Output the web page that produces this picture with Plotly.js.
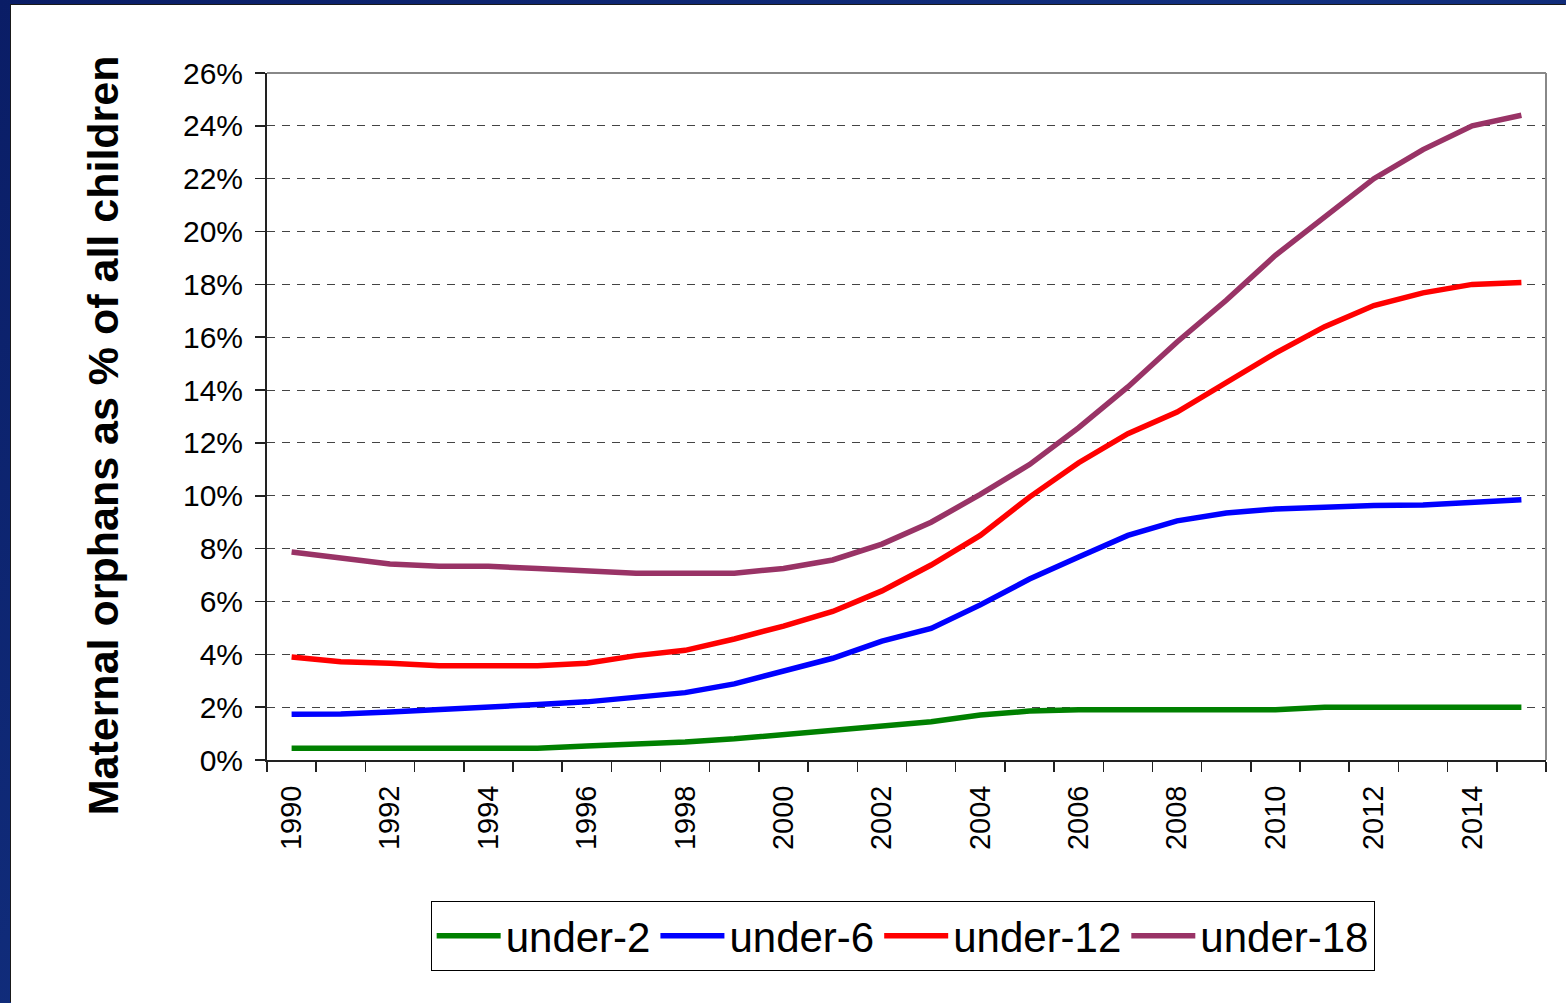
<!DOCTYPE html>
<html>
<head>
<meta charset="utf-8">
<script src="https://cdn.plot.ly/plotly-3.0.1.min.js"></script>
<style>
  html, body { margin: 0; padding: 0; width: 1566px; height: 1003px; overflow: hidden;
    background: linear-gradient(135deg, #0a1d66 0%, #123080 50%, #0a1d66 100%); }
  #wrap { position: absolute; left: 11px; top: 5px; width: 1555px; height: 998px; background: #fff;
    box-shadow: -1px -1px 0 #1a1a1a; }
  #chart { width: 1555px; height: 998px; }
</style>
</head>
<body>
<div id="wrap"><div id="chart"></div></div>
<script>
const years = [1990,1991,1992,1993,1994,1995,1996,1997,1998,1999,2000,2001,2002,2003,2004,2005,2006,2007,2008,2009,2010,2011,2012,2013,2014,2015];
const under2  = [0.44,0.44,0.44,0.44,0.44,0.44,0.53,0.60,0.68,0.80,0.95,1.10,1.25,1.45,1.70,1.85,1.90,1.90,1.90,1.90,1.90,2.00,2.00,2.00,2.00,2.00];
const under6  = [1.73,1.74,1.82,1.93,2.00,2.10,2.20,2.35,2.55,2.88,3.34,3.85,4.50,4.98,5.87,6.85,7.68,8.50,9.05,9.35,9.50,9.58,9.63,9.65,9.75,9.85];
const under12 = [3.90,3.72,3.66,3.57,3.57,3.57,3.66,3.95,4.15,4.58,5.07,5.62,6.40,7.38,8.50,9.95,11.25,12.35,13.17,14.28,15.40,16.40,17.20,17.68,18.00,18.07];
const under18 = [7.87,7.66,7.42,7.33,7.33,7.25,7.15,7.07,7.07,7.07,7.25,7.57,8.17,9.00,10.05,11.18,12.58,14.12,15.82,17.40,19.10,20.55,22.00,23.10,24.00,24.40];
const seriesNames = ['under-2','under-6','under-12','under-18'];
const seriesColors = ['#008000','#0000ff','#ff0000','#993366'];
const yTicks = [0,2,4,6,8,10,12,14,16,18,20,22,24,26];
const xTickLabels = [1990,1992,1994,1996,1998,2000,2002,2004,2006,2008,2010,2012,2014];
const yTitle = 'Maternal orphans as % of all children';

const allSeries = [under2, under6, under12, under18];
const traces = allSeries.map((vals, i) => ({
  x: years, y: vals, type: 'scatter', mode: 'lines', name: seriesNames[i],
  line: { color: seriesColors[i], width: 5.5 }
}));

const font = 'Liberation Sans, Arial, sans-serif';
const layout = {
  width: 1555, height: 998,
  margin: { l: 256, r: 20, t: 68, b: 243 },
  paper_bgcolor: '#ffffff', plot_bgcolor: '#ffffff',
  font: { family: font, color: '#000' },
  showlegend: true,
  xaxis: {
    range: [1989.5, 2015.5], tickmode: 'array', tickvals: xTickLabels, ticktext: xTickLabels.map(String),
    tickangle: -90, ticks: 'outside', ticklen: 12, tickcolor: 'rgba(0,0,0,0)',
    tickfont: { size: 29, family: font, color: '#000' },
    showgrid: false, zeroline: false, showline: true, linecolor: '#222', linewidth: 2,
    minor: { tick0: 1989.5, dtick: 1, ticks: 'outside', ticklen: 10, tickcolor: '#222', tickwidth: 1.5, showgrid: false },
    fixedrange: true
  },
  yaxis: {
    range: [0, 26], tickmode: 'array', tickvals: yTicks, ticktext: yTicks.map(v => v + '%'),
    ticks: 'outside', ticklen: 10, tickcolor: '#222', tickwidth: 1.5, ticklabelstandoff: 6,
    tickfont: { size: 30, family: font, color: '#000' },
    showgrid: true, gridcolor: '#444', gridwidth: 1, griddash: '8px,7px',
    zeroline: false, showline: true, linecolor: '#222', linewidth: 2,
    fixedrange: true
  },
  annotations: [
    { text: '<b>' + yTitle + '</b>', xref: 'paper', yref: 'paper', x: -0.128, y: 0.473,
      xanchor: 'center', yanchor: 'middle', textangle: -90, showarrow: false,
      font: { size: 43, family: font, color: '#000' } }
  ],
  shapes: [
    { type: 'line', xref: 'paper', yref: 'paper', x0: 0, x1: 1, y0: 1, y1: 1, line: { color: '#888', width: 2 } },
    { type: 'line', xref: 'paper', yref: 'paper', x0: 1, x1: 1, y0: 0, y1: 1, line: { color: '#888', width: 2 } }
  ],
  legend: {
    orientation: 'h', x: 0.497, xanchor: 'center', y: -0.205, yanchor: 'top',
    bordercolor: '#000', borderwidth: 1, bgcolor: '#fff',
    font: { size: 42, family: font, color: '#000' },
    itemwidth: 64, tracegroupgap: 0
  }
};

Plotly.newPlot('chart', traces, layout, { displayModeBar: false, staticPlot: true });
</script>
</body>
</html>
